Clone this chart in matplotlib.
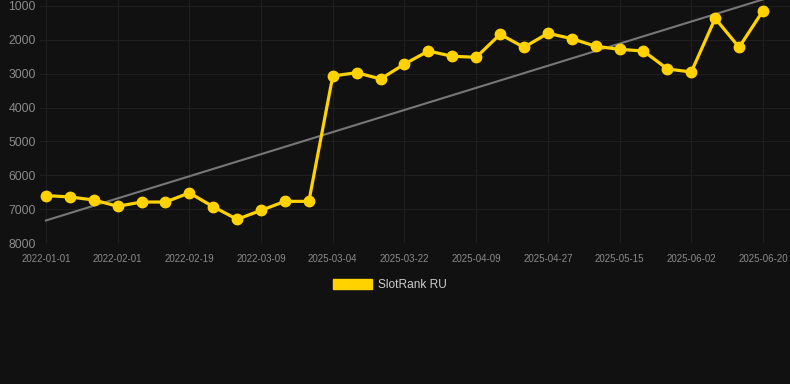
import matplotlib
matplotlib.use("Agg")
import matplotlib.pyplot as plt
import numpy as np

ranks = [6600, 6640, 6730, 6916, 6790, 6790, 6520, 6930, 7300, 7035, 6770, 6770,
         3067, 2970, 3155, 2715, 2330, 2485, 2515, 1836, 2220, 1806, 1965, 2190,
         2280, 2330, 2860, 2950, 1365, 2220, 1140]
tick_labels = ["2022-01-01", "2022-02-01", "2022-02-19", "2022-03-09", "2025-03-04",
               "2025-03-22", "2025-04-09", "2025-04-27", "2025-05-15", "2025-06-02",
               "2025-06-20"]
y_ticks = [1000, 2000, 3000, 4000, 5000, 6000, 7000, 8000]

bg = "#111111"
gold = "#FFD200"

fig = plt.figure(figsize=(7.9, 3.84), dpi=100, facecolor=bg)
ax = fig.add_axes([40 / 790, 1 - 243 / 384, 1 - 40 / 790, 243 / 384])
ax.set_facecolor(bg)

x = np.arange(len(ranks))
ax.plot(x, ranks, color=gold, lw=2.3, marker="o", ms=7.5, zorder=3,
        label="SlotRank RU")

# linear trend line
k, b = np.polyfit(x, ranks, 1)
xt = np.array([0, len(ranks) - 1 + 1.5])
ax.plot(xt, k * xt + b, color="#777777", lw=1.5, zorder=2)

ax.set_ylim(8000, 823)
ax.set_xlim(-0.25, len(ranks) - 1 + 1.13)
ax.set_yticks(y_ticks)
ax.set_yticklabels([str(v) for v in y_ticks])
ax.set_xticks(range(0, len(ranks), 3))
ax.set_xticklabels(tick_labels)

ax.tick_params(axis="y", length=0, pad=3, labelsize=8.8, labelcolor="#8a8a8a")
ax.tick_params(axis="x", length=0, pad=8, labelsize=7.0, labelcolor="#8a8a8a")
for lbl in ax.get_xticklabels() + ax.get_yticklabels():
    lbl.set_fontfamily("Liberation Sans")

ax.grid(True, color="#1f1f1f", lw=0.8)
for s in ax.spines.values():
    s.set_visible(False)

handle = matplotlib.patches.Patch(facecolor=gold, edgecolor=gold)
leg = fig.legend([handle], ["SlotRank RU"], loc="center",
                 bbox_to_anchor=(0.494, 1 - 285 / 384), frameon=False,
                 handlelength=3.2, handleheight=0.95, handletextpad=0.55,
                 prop={"family": "Liberation Sans", "size": 8.6})
for t in leg.get_texts():
    t.set_color("#cccccc")

fig.savefig("out.png", dpi=100, facecolor=bg)
